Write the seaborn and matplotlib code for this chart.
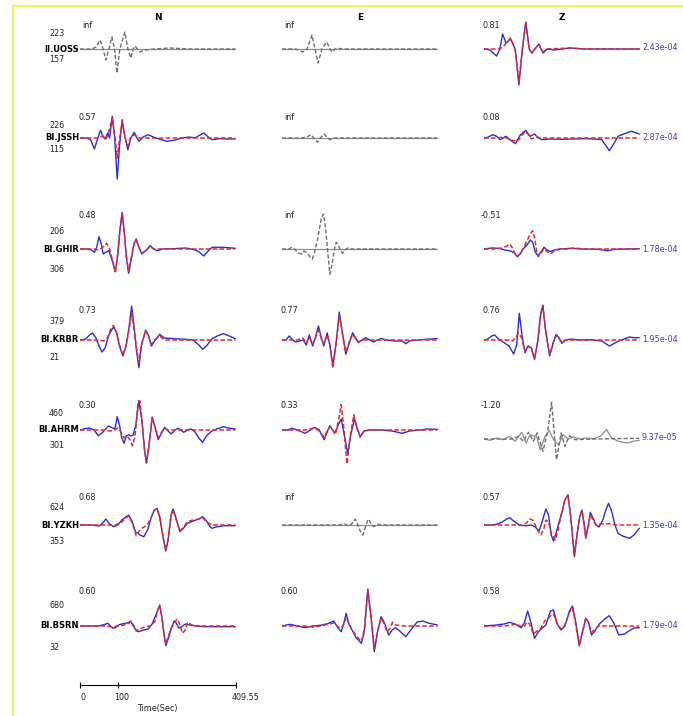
import numpy as np
import pandas as pd
import matplotlib
matplotlib.use("Agg")
import matplotlib.pyplot as plt
import seaborn as sns
from matplotlib.lines import Line2D
from matplotlib.transforms import ScaledTranslation

sns.set_theme(style="white")
plt.rcParams['font.family'] = ['DejaVu Sans']

# ---------------- data ----------------
stations = ["II.UOSS", "BI.JSSH", "BI.GHIR", "BI.KRBR", "BI.AHRM", "BI.YZKH", "BI.BSRN"]
dist_upper = ["223", "226", "206", "379", "460", "624", "680"]
dist_lower = ["157", "115", "306", "21", "301", "353", "32"]
components = ["N", "E", "Z"]
corr_N = ["inf", "0.57", "0.48", "0.73", "0.30", "0.68", "0.60"]
corr_E = ["inf", "inf", "inf", "0.77", "0.33", "inf", "0.60"]
corr_Z = ["0.81", "0.08", "-0.51", "0.76", "-1.20", "0.57", "0.58"]
amp_Z = ["2.43e-04", "2.87e-04", "1.78e-04", "1.95e-04", "9.37e-05", "1.35e-04", "1.79e-04"]
time_ticks = [0, 100, 409.55]
time_tick_labels = ["0", "100", "409.55"]
trace_len = 409.55

# traces: (time [s], amplitude) ; obs = solid, syn = dashed
FLAT = [(0, 0), (409.55, 0)]

UOSS_N_obs = FLAT
UOSS_N_syn = [(0,0),(32,0),(42,2),(53,9),(61,0),(68,-11),(76,0),(84,12),(91,0),(97,-24),(105,0),
              (118,17),(126,0),(134,-9),(140,0),(145,3),(151,0),(158,-3),(171,-1),(198,0),(237,1),(290,0),(409.55,0)]
UOSS_E_obs = FLAT
UOSS_E_syn = [(0,0),(37,0),(55,-3),(66,0),(79,14),(87,0),(95,-14),(105,0),(118,7),(126,0),(132,-3),
              (140,0),(145,1),(158,0),(409.55,0)]
UOSS_Z_obs = [(0,0),(16,-1),(33,-7),(42,0),(49,15),(58,6),(70,10),(82,0),(92,-36),(101,0),(110,27),
              (119,0),(126,-4),(134,0),(145,5),(150,0),(156,-4),(166,0),(184,-1),(227,1),(263,0),(409.55,0)]
UOSS_Z_syn = [(0,0),(40,0),(50,2),(61,7),(70,11),(82,0),(92,-33),(101,0),(110,27),(119,0),(126,-4),
              (134,0),(145,4),(150,0),(156,-3),(166,0),(227,1),(263,0),(409.55,0)]

JSSH_N_obs = [(0,0),(18,0),(28,-1.7),(38,-11),(46,-1),(54,7.7),(61,1),(66,-1),(73,5),(78,0),(85,21.7),
              (91,1.7),(98,-41),(104,-8.3),(111,18.3),(118,1.7),(126,-11.7),(134,0),(143,5.7),(150,0),
              (156,-3.3),(166,1),(180,3.3),(193,1),(208,-1),(228,-3.3),(248,-2.3),(268,0),(288,1),(303,0),
              (313,2.3),(326,5),(338,1),(348,-1.7),(368,-0.7),(388,-1),(409,-1)]
JSSH_N_syn = [(0,0),(48,0),(60,2.3),(68,-1),(74,3.3),(85,20),(92,1.7),(98,-20),(104,-1.7),(111,16.7),
              (118,1.7),(125,-8.3),(133,0),(143,3.3),(153,0),(409,0)]
JSSH_E_obs = FLAT
JSSH_E_syn = [(0,0),(51,0),(66,1),(76,3.3),(84,0),(93,-4.3),(101,0),(111,4),(118,1),(126,-1.7),(136,0),(409,0)]
JSSH_Z_obs = [(0,0),(10,0.7),(23,3.3),(33,1.7),(43,-1.7),(58,1.7),(70,-2.3),(83,-5.7),(95,2.7),(110,7.7),
              (121,1.7),(133,4),(143,0),(153,-1.7),(173,-1),(203,-1.3),(233,-1),(263,-0.7),(293,-1),
              (310,-1.7),(320,-7),(330,-12.7),(340,-7),(353,1.7),(370,4.3),(388,6.7),(409,4)]
JSSH_Z_syn = [(0,0),(33,0),(53,1),(73,-2.3),(88,-3.3),(100,2.7),(110,6.7),(118,2.7),(125,-1),(138,1),(150,0),(409,0)]

GHIR_N_obs = [(0,0),(18,0),(30,-1),(38,-3.3),(44,1.7),(50,12.3),(56,5),(61,-5),(68,-3.3),(76,-1.7),
              (85,-11.7),(93,-22.3),(100,-5),(105,18.3),(111,36.7),(117,15),(122,-8.3),(128,-24.3),
              (136,-8.3),(142,5),(148,10),(155,1.7),(163,-5),(173,-1.7),(185,3.3),(194,0),(203,-1.7),
              (218,0),(248,0.3),(278,1),(298,-0.3),(313,-2.7),(326,-7),(338,-1.7),(348,1.7),(378,1.7),(409,0.7)]
GHIR_N_syn = [(0,0),(38,0),(48,-1),(60,1.7),(70,5.7),(78,0),(86,-11.7),(93,-24.3),(99,-5),(105,18.3),
              (111,36.7),(117,15),(122,-6.7),(128,-22.3),(136,-6.7),(142,5),(148,9),(155,1.7),(163,-4.3),
              (173,-1.7),(185,2.7),(194,0),(409,0)]
GHIR_E_obs = FLAT
GHIR_E_syn = [(0,0),(18,0),(26,1.7),(33,0),(43,-4),(51,-5),(58,-2),(66,-4),(74,-8),(80,-10),(86,-3),
              (94,10),(103,30),(109,35),(115,20),(121,-5),(126,-25),(132,-15),(138,0),(143,6.7),(150,2),
              (159,-4.3),(166,-1),(173,1),(180,0),(409,0)]
GHIR_Z_obs = [(0,0),(20,1),(40,0.7),(55,-1),(70,-2),(80,-4),(88,-7.7),(95,-5),(103,0),(113,4),(122,9),
              (128,7),(135,-3),(142,-6.7),(150,-3),(158,1.7),(166,-1),(175,-2.5),(185,-1),(200,0),(230,0.7),
              (260,0),(300,-0.3),(325,-1.7),(345,-0.3),(409,0.3)]
GHIR_Z_syn = [(0,0),(30,0),(50,1),(60,3),(68,5),(75,1),(82,-5),(88,-7.7),(96,-4),(103,0),(110,6),(122,15),
              (128,18.3),(134,10),(139,-3),(143,-7.7),(150,-4),(158,0),(168,-3),(175,-5),(185,-2),(200,0),
              (220,0),(240,1),(260,0),(409,0)]

KRBR_N_obs = [(0,0),(15,1),(25,5),(33,7),(42,2),(50,-6),(58,-12),(66,-8),(76,5),(88,13),(96,8),(104,-6),
              (113,-16),(122,-5),(130,15),(136,34),(142,15),(148,-8),(155,-27.7),(162,-5),(173,10),(180,5),
              (188,-6),(198,0),(210,5.7),(222,2),(248,1.3),(278,0.7),(298,0),(313,-5),(323,-9.3),(333,-6),
              (348,1.3),(363,4.3),(378,6.3),(393,4),(409,1.3)]
KRBR_N_syn = [(0,0),(50,0),(62,-1),(72,2),(80,10),(88,14.7),(96,8),(104,-5),(113,-15.3),(122,-4),(130,12),
              (136,27),(142,12),(148,-6),(155,-22.7),(162,-4),(173,9),(180,4),(188,-4.3),(198,0),(210,4),
              (222,0),(409,0)]
KRBR_E_obs = [(0,0),(10,0),(19,4),(28,0),(36,-2),(46,-1),(56,0),(64,-5),(72,5),(81,-6),(89,4),(96,14),
              (103,3),(110,-6),(119,7),(126,-5),(134,-26),(142,-5),(151,28),(160,5),(168,-14.3),(177,-3),
              (186,7.3),(194,2),(201,-2.7),(211,0),(221,2.3),(231,0),(241,-2),(251,0),(261,1.3),(276,0),
              (296,-1),(316,-1),(326,-3.7),(336,-1),(356,0),(381,0.7),(409,1.3)]
KRBR_E_syn = [(0,0),(40,0),(55,2),(64,-3),(72,3),(81,-4),(89,3),(96,10),(103,2),(110,-4),(119,5),(126,-5),
              (134,-28),(142,-5),(151,25),(160,4),(168,-12),(177,-2),(186,6),(194,1),(201,-2),(211,0),(409,0)]
KRBR_Z_obs = [(0,0),(10,1),(20,4),(28,5),(38,1),(53,-2.7),(66,-6),(78,-14),(86,-5),(93,26.7),(100,5),
              (108,-12.7),(116,-6),(125,-8),(133,-19.3),(142,0),(149,25),(155,34.7),(162,10),(173,-16),
              (182,-3),(190,5.7),(198,2),(205,-3.3),(215,0),(230,1),(250,0),(280,0.3),(310,-1),(322,-4),
              (330,-6),(340,-4),(355,-1),(383,3),(395,2.3),(409,2.3)]
KRBR_Z_syn = [(0,0),(65,0),(75,-1),(83,2),(91,7),(98,3),(108,-11),(116,-6),(125,-9),(133,-18.7),(142,0),
              (149,25),(155,34.7),(162,10),(173,-14.3),(182,-3),(190,4.7),(198,1),(205,-2),(215,0),(409,0)]

AHRM_N_obs = [(0,0),(12,1.3),(25,2),(37,0),(48,-5.7),(58,-3),(75,4),(92,1),(98,13.3),(104,5),(110,-8),
              (116,-13.3),(122,-6),(128,-4.7),(134,-6),(140,-5),(147,5),(155,29),(163,10),(170,-20),(175,-33),
              (182,-15),(190,12.7),(196,5),(206,-9.7),(215,-3),(223,2.7),(232,-1),(240,-4),(250,0),(258,1.7),
              (266,0),(273,-2.3),(283,0),(293,1),(303,-2),(313,-8),(323,-12.3),(333,-6),(346,-1.3),(360,1),
              (378,3.3),(390,2),(409,1)]
AHRM_N_syn = [(0,0),(60,0),(80,-1),(92,0),(98,2),(106,-1),(116,-8),(124,-6),(132,-10),(138,-15.7),(144,-8),
              (148,5),(153,29),(158,29),(163,10),(170,-20),(175,-33),(182,-15),(190,12.7),(196,5),(206,-8),
              (215,-2),(223,2),(232,0),(409,0)]
AHRM_E_obs = [(0,0),(15,0),(26,1.7),(40,0),(61,-3.3),(75,0),(86,2.7),(98,0),(111,-9.7),(119,-2),(126,4.3),
              (133,0),(139,-3.3),(148,5),(156,11),(164,-5),(173,-24),(181,-5),(191,11),(198,2),(206,-6.7),
              (216,-1),(231,0),(260,0),(290,-1),(316,-3.3),(336,-1),(366,0),(381,1),(409,0.7)]
AHRM_E_syn = [(0,0),(60,0),(75,1),(86,2),(98,-1),(111,-7.3),(119,-1),(126,3.3),(133,0),(141,-4),(149,10),
              (156,25.3),(162,5),(171,-34),(179,-8),(189,15.3),(196,3),(206,-7.3),(216,-1),(231,0),(409,0)]
AHRM_Z_obs = [(0,-9),(16,-10.3),(33,-8),(51,-9.7),(68,-6.3),(82,-11.3),(99,-2.3),(111,-13),(121,-4.7),
              (139,-7),(148,-19.7),(161,-6.3),(172,-0.3),(183,-9.7),(196,-14.7),(209,-4.7),(222,-9),(235,-7),
              (253,-9),(270,-8),(288,-9),(306,-6.3),(323,0.3),(336,-8),(354,-11.3),(376,-13),(393,-11.3),(409,-10.3)]
AHRM_Z_syn = [(0,-9),(77,-9),(90,-6.3),(104,-11.3),(117,-2.3),(130,-11.3),(140,-3),(155,-21.3),(167,-3),
              (178,27.7),(191,-29.7),(203,-3),(213,-16.3),(225,-5.7),(240,-9.7),(288,-9),(409,-8.3)]

YZKH_N_obs = [(0,0),(30,0),(50,-1),(60,2),(68,6),(78,1),(88,-1.7),(100,0),(110,5),(128,10),(138,3),
              (146,-6.7),(158,-10),(168,-11.7),(178,-5),(188,8),(196,15),(203,16.7),(210,8),(220,-15),
              (226,-26),(232,-15),(240,10),(245,16),(252,8),(263,-6.7),(273,-3),(283,1.7),(298,4),(313,6),
              (323,8.3),(333,4),(343,-2),(348,-3.3),(358,-2),(378,-0.7),(409,-0.7)]
YZKH_N_syn = [(0,0),(95,0),(110,3),(128,9.3),(138,2),(148,-10.7),(156,-6),(163,-3.3),(173,-1),(180,2),
              (188,8),(196,15.3),(203,16),(210,8),(220,-14),(226,-25),(232,-14),(240,10),(245,15),(252,7),
              (263,-6),(273,-2),(283,3.3),(298,5),(313,6),(323,7.3),(333,3),(348,0),(409,0)]
YZKH_E_obs = FLAT
YZKH_E_syn = [(0,0),(150,0),(165,1),(176,-1),(186,2),(193,6),(200,0),(206,-6),(213,-10),(219,-3),(225,4),
              (229,5.7),(236,0),(242,-1.7),(252,0.7),(260,0),(409,0)]
YZKH_Z_obs = [(0,0),(20,0),(33,0.7),(48,3),(60,6),(68,7.3),(78,4),(93,0),(110,-0.7),(125,0),(135,-2),
              (145,-6),(153,3),(163,16),(170,10),(177,-10),(183,-16),(190,-8),(197,2),(205,12),(213,25),
              (221,30),(228,10),(238,-31.7),(245,-10),(252,8),(258,15),(264,0),(268,-13.3),(275,0),(280,12.7),
              (288,6),(295,0),(303,-2),(313,5),(320,14),(328,21.7),(336,14),(345,0),(353,-8.3),(365,-11),
              (383,-13.3),(395,-10),(409,-3.3)]
YZKH_Z_syn = [(0,0),(90,0),(100,-0.7),(112,2),(120,6),(128,5),(135,0),(142,-6),(150,-10),(158,-3),(163,5),
              (170,3),(178,-10),(188,-15),(195,-5),(203,10),(213,25),(221,30),(228,10),(238,-30),(245,-10),
              (252,8),(258,14),(264,0),(268,-12),(275,0),(280,10),(288,5),(295,0),(310,1),(330,1.3),(350,0),(409,0)]

BSRN_N_obs = [(0,0),(48,0),(63,1.3),(73,2.7),(80,0),(88,-2.3),(96,-1),(103,1.3),(113,2.3),(128,3.3),
              (133,5),(140,0),(148,-4),(153,-5.7),(168,-4),(180,-3),(190,2),(204,15),(210,21),(216,8),
              (222,-10),(226,-19.7),(233,-12),(240,-3),(248,5),(253,3.3),(260,-2),(268,-0.7),(278,2),(288,1),
              (308,0),(328,-0.7),(348,-0.7),(409,-0.7)]
BSRN_N_syn = [(0,0),(70,0),(85,-1),(100,0),(115,1),(128,2.5),(135,5),(142,0),(148,-5),(156,-3),(170,-1),
              (185,0),(198,5),(204,15),(210,21),(216,8),(222,-10),(226,-18),(233,-10),(240,-2),(250,4),
              (256,7),(262,2),(270,-7.3),(277,-4),(283,3.7),(290,2),(300,0),(409,0)]
BSRN_E_obs = [(0,0),(21,1.7),(40,0),(61,-1.7),(80,0),(101,0.7),(120,2.3),(136,5),(148,-2),(156,-5.7),
              (163,3),(169,12.7),(176,2),(183,-3),(196,-12),(209,-17.3),(217,-5),(226,37),(235,8),(243,-25.7),
              (252,-5),(261,9.3),(270,3),(281,-9),(290,-4),(299,-1.7),(310,-5),(326,-10.7),(341,-3),(356,4),
              (371,5),(385,3),(409,1)]
BSRN_E_syn = [(0,0),(60,0),(80,-1),(101,0),(120,1.5),(136,3),(148,-1),(156,-2),(163,2),(169,9),(176,3),
              (183,-3),(196,-10),(209,-15.7),(217,-3),(226,36),(235,6),(243,-23),(252,-5),(261,7.7),(270,2),
              (276,-5.7),(284,-3),(291,3.7),(300,1),(320,0),(409,0)]
BSRN_Z_obs = [(0,0),(33,1),(53,2),(68,3.7),(83,1.7),(98,-1.7),(106,3),(115,15),(124,3),(133,-12.3),
              (143,-6),(153,-2),(163,1),(175,15),(183,16),(193,2),(203,-4),(213,0),(225,15),(233,20),(241,5),
              (251,-19),(260,-5),(268,7.7),(275,4),(283,-9),(292,-5),(303,1.7),(318,7),(330,10.3),(342,3),
              (355,-9),(370,-8),(383,-4.7),(395,-2),(409,-1.7)]
BSRN_Z_syn = [(0,0),(50,0),(70,0.7),(85,2.3),(95,0),(105,-1),(113,4),(120,2),(130,-8),(140,-5),(150,-2),
              (160,5),(168,7.7),(175,10),(183,12),(193,2),(203,-3),(213,1),(225,14),(233,18),(241,3),
              (251,-20),(260,-5),(268,7.7),(275,4),(283,-6.7),(292,-3),(303,0),(409,0)]

traces = [
    [(UOSS_N_obs, UOSS_N_syn), (UOSS_E_obs, UOSS_E_syn), (UOSS_Z_obs, UOSS_Z_syn)],
    [(JSSH_N_obs, JSSH_N_syn), (JSSH_E_obs, JSSH_E_syn), (JSSH_Z_obs, JSSH_Z_syn)],
    [(GHIR_N_obs, GHIR_N_syn), (GHIR_E_obs, GHIR_E_syn), (GHIR_Z_obs, GHIR_Z_syn)],
    [(KRBR_N_obs, KRBR_N_syn), (KRBR_E_obs, KRBR_E_syn), (KRBR_Z_obs, KRBR_Z_syn)],
    [(AHRM_N_obs, AHRM_N_syn), (AHRM_E_obs, AHRM_E_syn), (AHRM_Z_obs, AHRM_Z_syn)],
    [(YZKH_N_obs, YZKH_N_syn), (YZKH_E_obs, YZKH_E_syn), (YZKH_Z_obs, YZKH_Z_syn)],
    [(BSRN_N_obs, BSRN_N_syn), (BSRN_E_obs, BSRN_E_syn), (BSRN_Z_obs, BSRN_Z_syn)],
]
# panels drawn in grey (poor / missing fit)
gray_panels = {(0, 0), (0, 1), (1, 1), (2, 1), (4, 2), (5, 1)}

# ---------------- layout (pixels) ----------------
W, H = 683, 716
col_x0 = [80, 282, 484]
panel_w = 155.5
row_base = [49, 138, 249, 340, 430, 525, 626]
half_h = 48
corr_dy = [24, 20, 34, 30, 25, 28, 34]
up_dy = [16, 13, 18, 18, 17, 17, 21]
lo_dy = [11, 11, 20, 18, 16, 16, 21]
amp_dy = [-1, 0, 0, 0, 8, 0, 0]

BLUE = "#2b2bdd"
RED = "#e8262a"
GREY_S = "#8c8c8c"
GREY_D = "#6e6e6e"
AMP_C = "#3a3ac4"

fig = plt.figure(figsize=(W / 100, H / 100), dpi=100)
fig.patch.set_facecolor("white")

def fx(x):
    return x / W

def fy(y):
    return 1 - y / H

corr_all = [corr_N, corr_E, corr_Z]

for r in range(len(stations)):
    base = row_base[r]
    for c in range(3):
        ax = fig.add_axes([fx(col_x0[c]), fy(base + half_h), panel_w / W, 2 * half_h / H])
        obs, syn = traces[r][c]
        dfo = pd.DataFrame(obs, columns=["t", "a"])
        dfs = pd.DataFrame(syn, columns=["t", "a"])
        if (r, c) in gray_panels:
            sns.lineplot(data=dfo, x="t", y="a", ax=ax, color=GREY_S, lw=0.9,
                         sort=False, estimator=None)
            sns.lineplot(data=dfs, x="t", y="a", ax=ax, color=GREY_D, lw=1.0,
                         linestyle=(0, (3, 1.5)), sort=False, estimator=None)
        else:
            sns.lineplot(data=dfo, x="t", y="a", ax=ax, color=BLUE, lw=1.0,
                         sort=False, estimator=None)
            sns.lineplot(data=dfs, x="t", y="a", ax=ax, color=RED, lw=1.1,
                         linestyle=(0, (3, 1.5)), sort=False, estimator=None)
        ax.set_xlim(0, trace_len)
        ax.set_ylim(-half_h, half_h)
        ax.axis("off")
        # correlation value
        fig.text(fx(col_x0[c] + 7), fy(base - corr_dy[r]), corr_all[c][r],
                 ha="center", va="center", fontsize=5.8, color="#222222")
    # station label and distances
    fig.text(fx(79), fy(base), stations[r], ha="right", va="center",
             fontsize=6, fontweight="bold", color="black")
    fig.text(fx(49), fy(base - up_dy[r]), dist_upper[r], ha="left", va="center",
             fontsize=5.8, color="#222222")
    fig.text(fx(49), fy(base + lo_dy[r]), dist_lower[r], ha="left", va="center",
             fontsize=5.8, color="#222222")
    fig.text(fx(642), fy(base + amp_dy[r]), amp_Z[r], ha="left", va="center",
             fontsize=5.8, color=AMP_C)

# component titles
for c, comp in enumerate(components):
    fig.text(fx(col_x0[c] + panel_w / 2), fy(17), comp, ha="center", va="center",
             fontsize=6.5, fontweight="bold", color="black")

# time scale bar
tax = fig.add_axes([fx(80), fy(685), panel_w / W, 1 / H])
tax.patch.set_visible(False)
tax.set_xlim(0, trace_len)
tax.set_ylim(0, 1)
for s in ["top", "left", "right"]:
    tax.spines[s].set_visible(False)
tax.spines["bottom"].set_color("black")
tax.spines["bottom"].set_linewidth(0.8)
tax.set_yticks([])
tax.set_xticks(time_ticks)
tax.set_xticklabels(time_tick_labels, fontsize=5.8, color="#222222")
tax.tick_params(axis="x", direction="inout", length=5, width=0.8, pad=3, colors="black",
                labelcolor="#222222", bottom=True)
tax.set_xlabel("Time(Sec)", fontsize=5.8, labelpad=2, color="#222222")
for lab, dxp in zip(tax.get_xticklabels(), [3, 4, 10]):
    lab.set_transform(lab.get_transform() + ScaledTranslation(dxp / 100, 0, fig.dpi_scale_trans))

# yellow frame
fig.add_artist(Line2D([fx(12.5), fx(12.5)], [0, fy(6)], transform=fig.transFigure,
                      color="#f3ef5c", lw=1.6))
fig.add_artist(Line2D([fx(12.5), 1], [fy(6), fy(6)], transform=fig.transFigure,
                      color="#f3ef5c", lw=1.6))

fig.savefig("out.png", dpi=100, facecolor="white")
